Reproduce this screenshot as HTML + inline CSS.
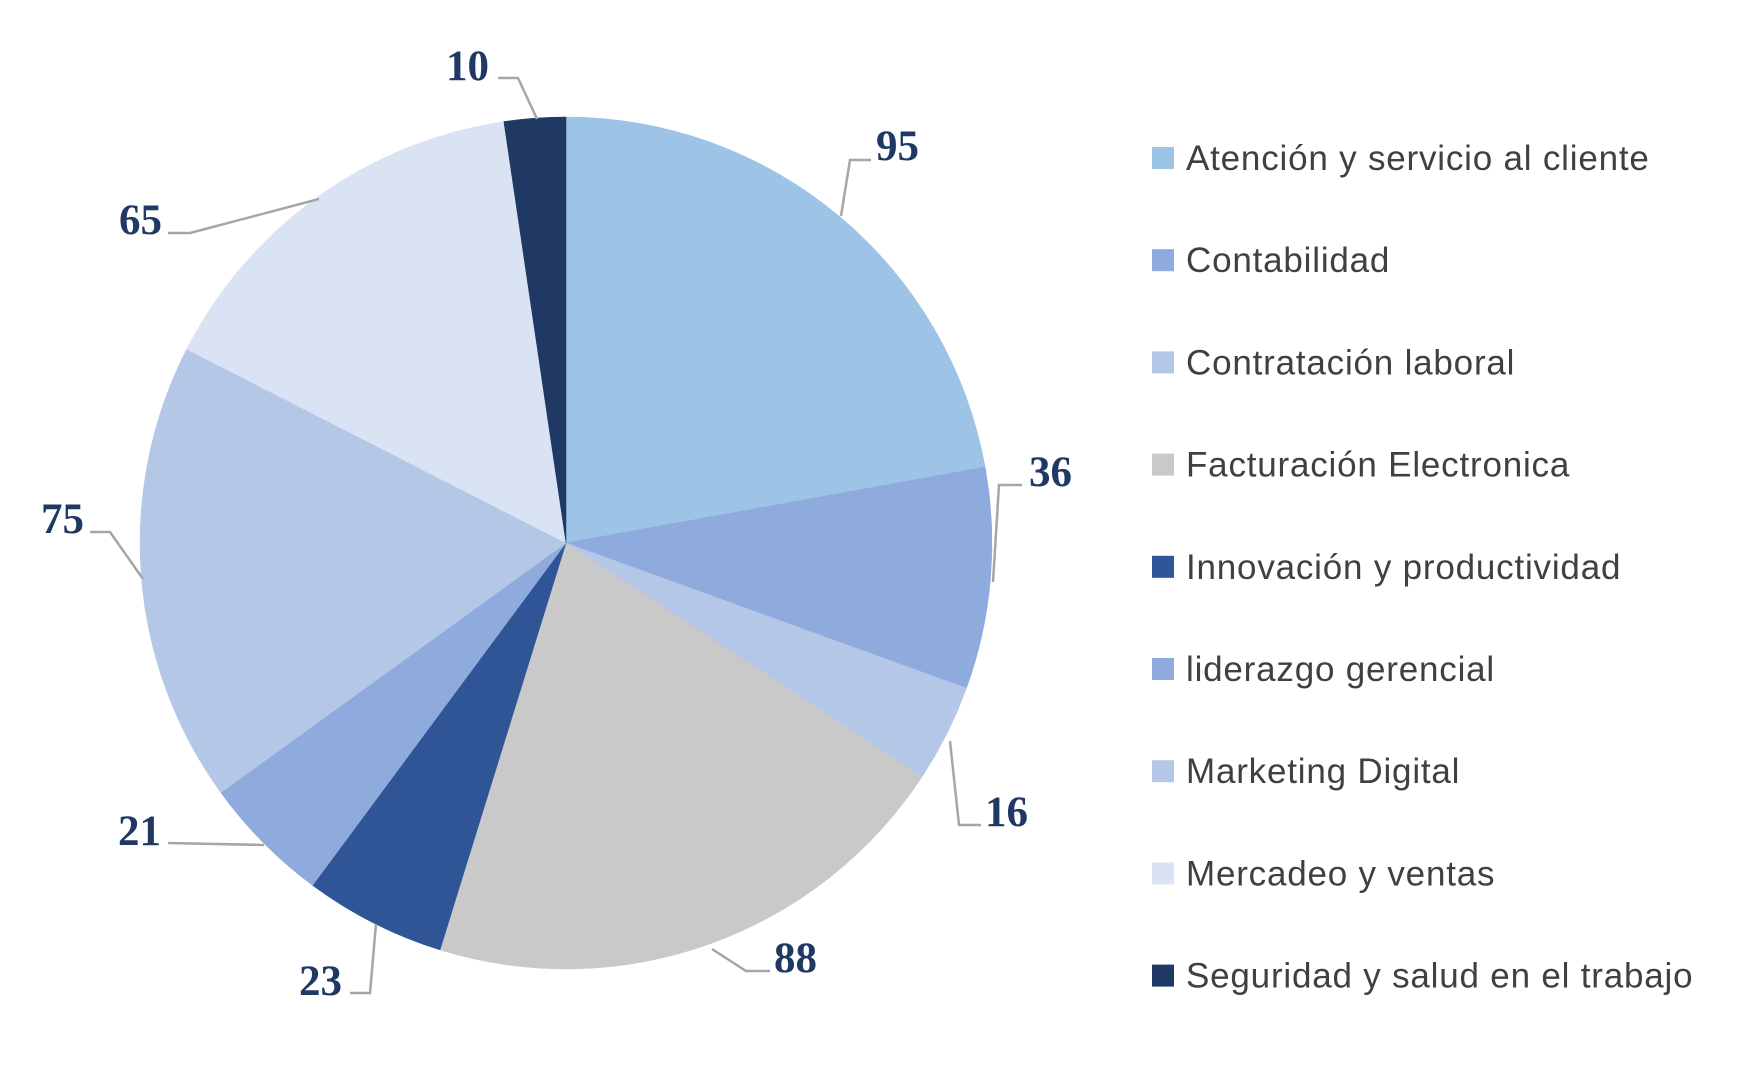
<!DOCTYPE html>
<html><head><meta charset="utf-8"><style>
body{margin:0;background:#fff}
svg{display:block}
.n{font-family:"Liberation Serif",serif;font-weight:bold;font-size:43px;fill:#1F3864}
.l{font-family:"Liberation Sans",sans-serif;font-size:35px;letter-spacing:0.8px;fill:#404040}
</style></head><body>
<svg id="s" width="1746" height="1086" viewBox="0 0 1746 1086">
<g id="pie"></g>
<g fill="none" stroke="#A6A6A6" stroke-width="2.5">
<polyline points="498,78 518,78 537,119"/>
<polyline points="841,216 850,160 871,160"/>
<polyline points="993,582 999,485 1022,485"/>
<polyline points="950,741 959,825 981,825"/>
<polyline points="712,949 746,971 770,971"/>
<polyline points="376,924 370,993 350,993"/>
<polyline points="264,845 168,843"/>
<polyline points="143,579 110,532 90,532"/>
<polyline points="319,199 190,233 168,233"/>
</g>
<text class="n" x="489" y="80" text-anchor="end">10</text>
<text class="n" x="876" y="160">95</text>
<text class="n" x="1029" y="486">36</text>
<text class="n" x="985" y="826">16</text>
<text class="n" x="774" y="972">88</text>
<text class="n" x="342" y="995" text-anchor="end">23</text>
<text class="n" x="161" y="845" text-anchor="end">21</text>
<text class="n" x="84" y="533" text-anchor="end">75</text>
<text class="n" x="162" y="234" text-anchor="end">65</text>
<g id="leg"></g>
</svg>
<script>
var d=[[95,"#9DC3E6","Atención y servicio al cliente"],[36,"#8FAADC","Contabilidad"],[16,"#B4C7E7","Contratación laboral"],[88,"#C9C9C9","Facturación Electronica"],[23,"#2F5597","Innovación y productividad"],[21,"#8FAADC","liderazgo gerencial"],[75,"#B4C7E7","Marketing Digital"],[65,"#DAE3F3","Mercadeo y ventas"],[10,"#203864","Seguridad y salud en el trabajo"]];
var cx=566,cy=543,r=426,t=0,tot=429,h="",lg="";
d.forEach(function(e,i){var a0=t/tot*2*Math.PI;t+=e[0];var a1=t/tot*2*Math.PI;
var x0=cx+r*Math.sin(a0),y0=cy-r*Math.cos(a0),x1=cx+r*Math.sin(a1),y1=cy-r*Math.cos(a1);
h+='<path d="M'+cx+','+cy+' L'+x0+','+y0+' A'+r+','+r+' 0 '+((a1-a0)>Math.PI?1:0)+' 1 '+x1+','+y1+' Z" fill="'+e[1]+'" stroke="'+e[1]+'" stroke-width="0.5"/>';
var y=158+i*102.2;
lg+='<rect x="1152" y="'+(y-11)+'" width="22" height="22" fill="'+e[1]+'"/><text class="l" x="1186" y="'+(y+12)+'">'+e[2]+'</text>';});
document.getElementById("pie").innerHTML=h;document.getElementById("leg").innerHTML=lg;
</script>
</body></html>
